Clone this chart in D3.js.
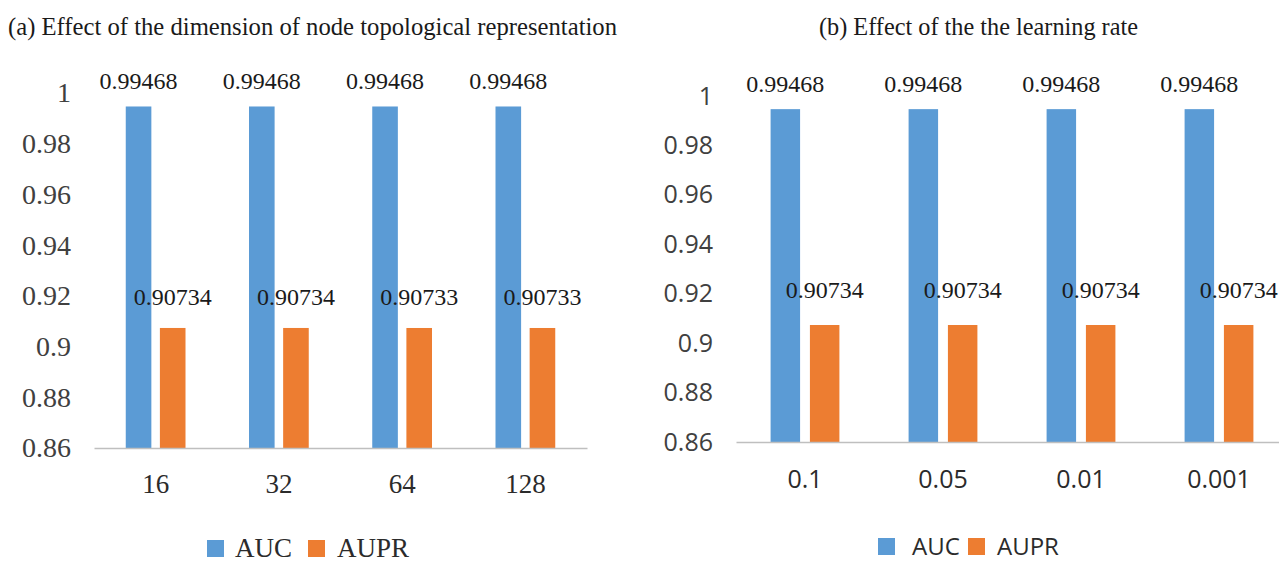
<!DOCTYPE html>
<html lang="en">
  <head>
    <meta charset="utf-8" />
    <title>effect of parameters</title>
    <script type="text/javascript" src="https://d3js.org/d3.v7.min.js"></script>
    <style>
      body { margin: 0; background: #fff; }
      svg { display: block; }
    </style>
  </head>
  <body>
    <div id="graph"></div>

    <script type="text/javascript">
      /***************
       * data
       ***************/

      const seriesNames = ["AUC", "AUPR"];

      // (a) dimension of node topological representation
      const dimCategories = ["16", "32", "64", "128"];
      const dimAUC = [0.99468, 0.99468, 0.99468, 0.99468];
      const dimAUPR = [0.90734, 0.90734, 0.90733, 0.90733];

      // (b) learning rate
      const lrCategories = ["0.1", "0.05", "0.01", "0.001"];
      const lrAUC = [0.99468, 0.99468, 0.99468, 0.99468];
      const lrAUPR = [0.90734, 0.90734, 0.90734, 0.90734];

      const yTicks = [0.86, 0.88, 0.9, 0.92, 0.94, 0.96, 0.98, 1];

      /***************
       * svg
       ***************/

      const width = 1279;
      const height = 564;

      const svg = d3
        .select("div#graph")
        .append("svg")
        .attr("width", width)
        .attr("height", height)
        .style("font-family", "Liberation Serif");

      const color = d3.scaleOrdinal().domain(seriesNames).range(["#5b9bd5", "#ed7d31"]);

      const serif = "Liberation Serif";
      const sans = "Open Sans";

      /***************
       * one panel
       ***************/

      function drawPanel(p) {
        const g = svg.append("g");

        // title
        g.append("text")
          .attr("x", p.title.x)
          .attr("y", 35)
          .style("font-family", serif)
          .style("font-size", "26px")
          .attr("textLength", p.title.len)
          .attr("lengthAdjust", "spacingAndGlyphs")
          .attr("fill", "#1a1a1a")
          .text(p.title.text);

        const x0 = d3.scaleBand().domain(p.categories).range(p.xRange);
        const x1 = d3
          .scaleBand()
          .domain(seriesNames)
          .range([0, x0.bandwidth()])
          .paddingInner(p.innerPad)
          .paddingOuter(p.outerPad);
        const y = d3.scaleLinear().domain([0.86, 1]).range(p.yRange);

        // y axis (labels only)
        const yAxis = g
          .append("g")
          .attr("transform", "translate(" + p.xRange[0] + ",0)")
          .call(
            d3.axisLeft(y)
              .tickValues(yTicks)
              .tickSize(0)
              .tickPadding(23)
              .tickFormat((d) => String(+d.toFixed(2)))
          );
        yAxis.select(".domain").remove();
        yAxis.selectAll("text")
          .style("font-family", p.yFont)
          .style("font-size", p.yFontSize + "px")
          .attr("fill", "#404040");

        // bars
        const rows = p.categories.map((c, i) => ({
          cat: c,
          values: [
            { key: "AUC", value: p.auc[i] },
            { key: "AUPR", value: p.aupr[i] },
          ],
        }));

        const groups = g
          .selectAll("g.group")
          .data(rows)
          .enter()
          .append("g")
          .attr("class", "group")
          .attr("transform", (d) => "translate(" + x0(d.cat) + ",0)");

        groups
          .selectAll("rect")
          .data((d) => d.values)
          .enter()
          .append("rect")
          .attr("x", (d) => x1(d.key))
          .attr("y", (d) => y(d.value))
          .attr("width", x1.bandwidth())
          .attr("height", (d) => y(0.86) - y(d.value))
          .attr("fill", (d) => color(d.key));

        // x axis (baseline + category labels)
        const xAxis = g
          .append("g")
          .attr("transform", "translate(0," + p.yRange[0] + ")")
          .call(d3.axisBottom(x0).tickSize(0).tickPadding(p.xPad));
        xAxis.select(".domain").attr("stroke", "#bfbfbf").attr("stroke-width", 1.6);
        xAxis.selectAll("text")
          .style("font-family", p.xFont)
          .style("font-size", p.xFontSize + "px")
          .attr("fill", "#2b2b2b");

        // value labels
        groups
          .selectAll("text.val")
          .data((d) => d.values)
          .enter()
          .append("text")
          .attr("class", "val")
          .attr("x", (d) => x1(d.key) + x1.bandwidth() / 2)
          .attr("y", (d) => y(d.value) - (d.key === "AUC" ? 17 : p.auprOffset))
          .attr("text-anchor", "middle")
          .style("font-family", serif)
          .style("font-size", "24px")
          .attr("fill", "#1a1a1a")
          .text((d) => d.value.toFixed(5));

        // legend
        const leg = g.append("g");
        p.legend.forEach((l, i) => {
          leg.append("rect")
            .attr("x", l.box)
            .attr("y", p.legendY - 17)
            .attr("width", 17)
            .attr("height", 17)
            .attr("fill", color(seriesNames[i]));
          leg.append("text")
            .attr("x", l.text)
            .attr("y", p.legendY)
            .style("font-family", p.legendFont)
            .style("font-size", p.legendFontSize + "px")
            .attr("fill", "#2b2b2b")
            .text(seriesNames[i]);
        });
      }

      drawPanel({
        title: { x: 8, len: 609, text: "(a)  Effect of the dimension of node topological representation" },
        categories: dimCategories,
        auc: dimAUC,
        aupr: dimAUPR,
        xRange: [94, 587],
        yRange: [448, 93],
        innerPad: 0.25,
        outerPad: 0.93,
        yFont: serif,
        yFontSize: 28,
        xFont: serif,
        xFontSize: 27,
        xPad: 26,
        auprOffset: 23,
        legendY: 557,
        legendFont: serif,
        legendFontSize: 27,
        legend: [{ box: 207, text: 235 }, { box: 308, text: 337 }],
      });

      drawPanel({
        title: { x: 819, len: 319, text: "(b) Effect of the the learning rate" },
        categories: lrCategories,
        auc: lrAUC,
        aupr: lrAUPR,
        xRange: [736, 1288],
        yRange: [442, 96],
        innerPad: 0.25,
        outerPad: 0.88,
        yFont: sans,
        yFontSize: 25,
        xFont: sans,
        xFontSize: 25,
        xPad: 28,
        auprOffset: 27,
        legendY: 555,
        legendFont: sans,
        legendFontSize: 24,
        legend: [{ box: 878, text: 912 }, { box: 968, text: 997 }],
      });
    </script>
  </body>
</html>
